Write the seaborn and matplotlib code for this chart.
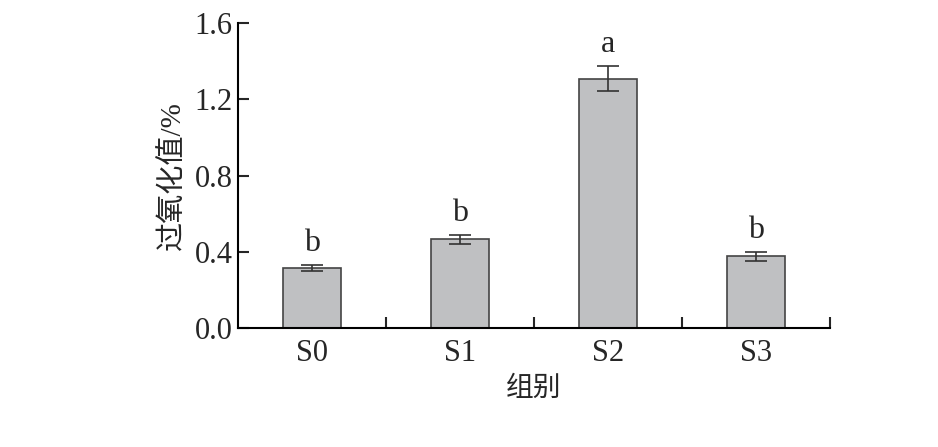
import numpy as np
import pandas as pd
import matplotlib
matplotlib.use('Agg')
import matplotlib.pyplot as plt
from matplotlib.ticker import FixedLocator
import seaborn as sns

# Data
groups = ['S0', 'S1', 'S2', 'S3']
values = [0.316, 0.465, 1.308, 0.376]
errors = [0.015, 0.023, 0.067, 0.024]
letters = ['b', 'b', 'a', 'b']
yticks = [0.0, 0.4, 0.8, 1.2, 1.6]

sns.set_style('ticks')
plt.rcParams['font.family'] = ['Liberation Serif', 'Noto Sans CJK SC']
plt.rcParams['axes.unicode_minus'] = False

df = pd.DataFrame({'group': groups, 'value': values})

fig = plt.figure(figsize=(9.38, 4.47), dpi=100)
ax = fig.add_axes([0.2537, 0.2662, 0.6312, 0.6823])

sns.barplot(data=df, x='group', y='value', color='#bfc0c2', saturation=1,
            edgecolor='#444444', linewidth=1.2, width=0.39, errorbar=None, ax=ax)

xpos = np.arange(len(groups))
ax.errorbar(xpos, values, yerr=errors, fmt='none', ecolor='#333333',
            elinewidth=1.2, capsize=8, capthick=1.2)

for x, v, e, t in zip(xpos, values, errors, letters):
    ax.text(x, v + e + 0.035, t, ha='center', va='bottom', fontsize=23)

ax.set_xlim(-0.5, len(groups) - 0.5)
ax.set_ylim(0, 1.6)
ax.set_yticks(yticks)
ax.set_yticklabels([f'{t:.1f}' for t in yticks])

# boundary ticks between groups on the x axis
ax.xaxis.set_minor_locator(FixedLocator(np.arange(0.5, len(groups), 1.0)))
ax.tick_params(axis='x', which='major', length=0, pad=8, labelsize=22)
ax.tick_params(axis='x', which='minor', direction='in', length=8, width=1.5)
ax.tick_params(axis='y', which='major', direction='in', length=8, width=1.5,
               pad=4, labelsize=22)

ax.set_xlabel('组别', fontsize=20, labelpad=6)
ax.set_ylabel('过氧化值/%', fontsize=20, labelpad=6)
# make the "/%" part about as tall as the Chinese characters
ax.yaxis.label.set_text('过氧化值/%')
ax.yaxis.label.set_fontsize(21)

sns.despine(ax=ax)
for s in ['left', 'bottom']:
    ax.spines[s].set_linewidth(1.5)
    ax.spines[s].set_color('black')

fig.savefig('out.png', dpi=100)
